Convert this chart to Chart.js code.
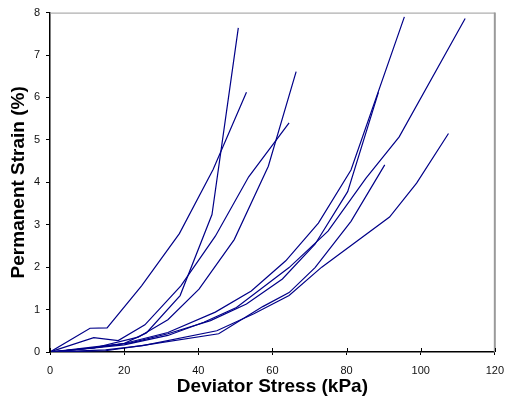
<!DOCTYPE html>
<html>
<head>
<meta charset="utf-8">
<script src="https://cdn.jsdelivr.net/npm/chart.js@4.4.1/dist/chart.umd.min.js"></script>
<style>
html,body{margin:0;padding:0;background:#fff;}
#wrap{width:513px;height:403px;}
</style>
</head>
<body>
<div id="wrap"><canvas id="c" width="513" height="403"></canvas></div>
<script>
// Deviator stress (kPa) and permanent strain (%) for each test curve
const stressA = [0, 12, 20, 26, 35.1, 43.7, 50.8];
const strainA = [0, 0.12, 0.2, 0.45, 1.33, 3.24, 7.64];
const stressB = [0, 10.8, 15.4, 24.7, 34.9, 44, 53];
const strainB = [0, 0.56, 0.57, 1.56, 2.79, 4.3, 6.12];
const stressC = [0, 12, 23.8, 31.8, 40.2, 49.7, 58.9, 66.4];
const strainC = [0, 0.1, 0.35, 0.76, 1.48, 2.65, 4.38, 6.61];
const stressD = [0, 11.8, 18.4, 25.6, 35.3, 44.6, 53.6, 64.5];
const strainD = [0, 0.34, 0.27, 0.64, 1.56, 2.73, 4.13, 5.40];
const stressE = [0, 12, 20, 31.8, 44.6, 54.3, 63.6, 72.4, 81.2, 95.6];
const strainE = [0, 0.1, 0.2, 0.46, 0.94, 1.44, 2.15, 3.04, 4.29, 7.9];
const stressF = [0, 10, 20, 31.8, 41.5, 50.3, 64.5, 75, 85.2, 94.2, 112];
const strainF = [0, 0.08, 0.17, 0.39, 0.70, 1.05, 1.99, 2.85, 4.09, 5.07, 7.86];
const stressG = [0, 15, 25, 45, 55, 64.5, 73.3, 91.6, 98.9, 107.5];
const strainG = [0, 0.05, 0.15, 0.5, 0.9, 1.33, 2.0, 3.18, 3.98, 5.15];
const stressH = [0, 15, 25.6, 45.5, 57.4, 64.5, 71.5, 81.2, 90.3];
const strainH = [0, 0.03, 0.16, 0.43, 1.07, 1.40, 1.99, 3.08, 4.41];
const stressI = [0, 12, 22, 31.8, 43.3, 53, 62.7, 71.5, 80.3, 88.6];
const strainI = [0, 0.1, 0.22, 0.43, 0.74, 1.13, 1.72, 2.54, 3.78, 6.12];

const xTicks = [0, 20, 40, 60, 80, 100, 120];
const yTicks = [0, 1, 2, 3, 4, 5, 6, 7, 8];

const series = [
  [stressA, strainA], [stressB, strainB], [stressC, strainC],
  [stressD, strainD], [stressE, strainE], [stressF, strainF],
  [stressG, strainG], [stressH, strainH], [stressI, strainI]
];

const FONT = "'Liberation Sans', Arial, sans-serif";
const LINE = '#000088';

const datasets = series.map(([xs, ys]) => ({
  data: xs.map((x, i) => ({x: x, y: ys[i]})),
  showLine: true,
  borderColor: LINE,
  borderWidth: 1.2,
  pointRadius: 0,
  fill: false,
  tension: 0
}));

const framePlugin = {
  id: 'frame',
  afterDraw(chart) {
    const ctx = chart.ctx;
    const a = chart.chartArea;
    const xs = chart.scales.x;
    ctx.save();
    // gray top and right border
    ctx.strokeStyle = '#9a9a9a';
    ctx.lineWidth = 1;
    ctx.beginPath();
    ctx.moveTo(a.left, a.top + 0.5);
    ctx.lineTo(a.right, a.top + 0.5);
    ctx.stroke();
    ctx.lineWidth = 2;
    ctx.beginPath();
    ctx.moveTo(a.right, a.top);
    ctx.lineTo(a.right, a.bottom);
    ctx.stroke();
    // inner part of x tick marks
    ctx.strokeStyle = '#000';
    ctx.lineWidth = 1;
    xTicks.forEach(v => {
      const px = Math.round(xs.getPixelForValue(v)) + 0.5;
      ctx.beginPath();
      ctx.moveTo(px, a.bottom - 4);
      ctx.lineTo(px, a.bottom);
      ctx.stroke();
    });
    ctx.restore();
  }
};

new Chart(document.getElementById('c'), {
  type: 'scatter',
  data: { datasets: datasets },
  options: {
    responsive: false,
    animation: false,
    events: [],
    layout: { padding: { top: 10, right: 10, left: 0, bottom: 0 } },
    plugins: { legend: { display: false }, tooltip: { enabled: false } },
    scales: {
      x: {
        type: 'linear',
        min: 0, max: 120,
        afterBuildTicks(s) { s.ticks = xTicks.map(v => ({value: v})); },
        afterFit(s) { s.height = 51; },
        border: { display: true, color: '#000', width: 1.5 },
        grid: { display: true, drawOnChartArea: false, drawTicks: true, tickLength: 3, color: '#000', lineWidth: 1 },
        ticks: { color: '#111', font: { family: FONT, size: 11 }, padding: 9, maxRotation: 0, autoSkip: false },
        title: { display: true, text: 'Deviator Stress (kPa)', color: '#000',
                 font: { family: FONT, size: 19, weight: 'bold' }, padding: { top: 0, bottom: 5 } }
      },
      y: {
        type: 'linear',
        min: 0, max: 8,
        afterBuildTicks(s) { s.ticks = yTicks.map(v => ({value: v})); },
        afterFit(s) { s.width = 50; },
        border: { display: true, color: '#000', width: 1.5 },
        grid: { display: true, drawOnChartArea: false, drawTicks: true, tickLength: 4, color: '#000', lineWidth: 1 },
        ticks: { color: '#111', font: { family: FONT, size: 11 }, padding: 6, autoSkip: false },
        title: { display: true, text: 'Permanent Strain (%)', color: '#000',
                 font: { family: FONT, size: 19, weight: 'bold' }, padding: { top: 7, bottom: 0 } }
      }
    }
  },
  plugins: [framePlugin]
});
</script>
</body>
</html>
